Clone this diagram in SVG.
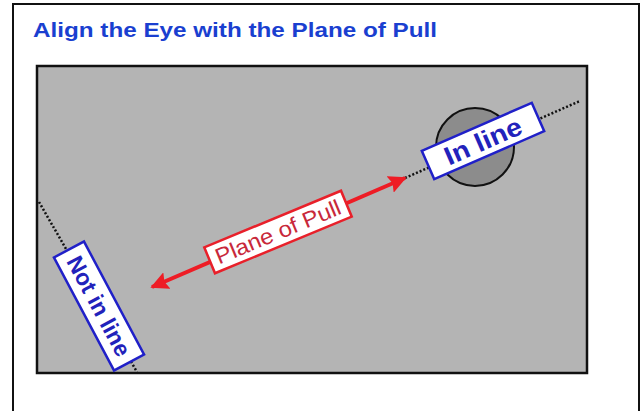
<svg xmlns="http://www.w3.org/2000/svg" width="641" height="411" viewBox="0 0 641 411">
<style>
.title{font-family:"Liberation Sans",Arial,sans-serif;font-weight:bold;font-size:20px;fill:#1a3fd0}
.lbl-blue{font-family:"Liberation Sans",Arial,sans-serif;font-weight:bold;fill:#2222bb}
.lbl-red{font-family:"Liberation Sans",Arial,sans-serif;fill:#c8283a}
.box-blue{fill:#ffffff;stroke:#2020c8;stroke-width:2.5}
.box-red{fill:#ffffff;stroke:#e8202a;stroke-width:2.5}
.dots{stroke:#111;stroke-width:2.5;stroke-dasharray:2 2;fill:none}
</style>
<defs>
<marker id="ah" viewBox="0 0 10 10" refX="9" refY="5" markerWidth="4.5" markerHeight="4.5" orient="auto-start-reverse">
<path d="M0,0 L10,5 L0,10 L1.5,5 z" fill="#ee1c25"/>
</marker>
</defs>
<rect x="0" y="0" width="641" height="411" fill="#ffffff"/>
<rect id="frame" x="13" y="4" width="626" height="420" fill="#ffffff" stroke="#111" stroke-width="2"/>
<text id="title" class="title" x="33" y="37" textLength="404" lengthAdjust="spacingAndGlyphs">Align the Eye with the Plane of Pull</text>
<g id="panel">
<rect x="37" y="66" width="550" height="307" fill="#b4b4b4" stroke="#111" stroke-width="2.5"/>
</g>
<g id="connectors">
<line class="dots" x1="405" y1="178" x2="580" y2="101"/>
<line class="dots" x1="39" y1="202" x2="137" y2="372"/>
<line x1="152" y1="287" x2="405" y2="178" stroke="#ee1c25" stroke-width="4" marker-start="url(#ah)" marker-end="url(#ah)"/>
</g>
<g id="eye">
<circle cx="475" cy="147" r="39" fill="#8c8c8c" stroke="#111" stroke-width="2"/>
</g>
<g id="in-line" transform="translate(483,141) rotate(-23.6)">
<rect class="box-blue" x="-60" y="-15.5" width="120" height="31"/>
<text class="lbl-blue" x="0" y="9" font-size="26" text-anchor="middle" textLength="82" lengthAdjust="spacingAndGlyphs">In line</text>
</g>
<g id="plane-of-pull" transform="translate(278,232) rotate(-22.5)">
<rect class="box-red" x="-74" y="-14" width="148" height="28"/>
<text class="lbl-red" x="0" y="7.5" font-size="22" text-anchor="middle" textLength="134" lengthAdjust="spacingAndGlyphs">Plane of Pull</text>
</g>
<g id="not-in-line" transform="translate(99,306) rotate(62)">
<rect class="box-blue" x="-64" y="-17" width="128" height="34"/>
<text class="lbl-blue" x="0" y="8" font-size="23" text-anchor="middle" textLength="110" lengthAdjust="spacingAndGlyphs">Not in line</text>
</g>
</svg>
